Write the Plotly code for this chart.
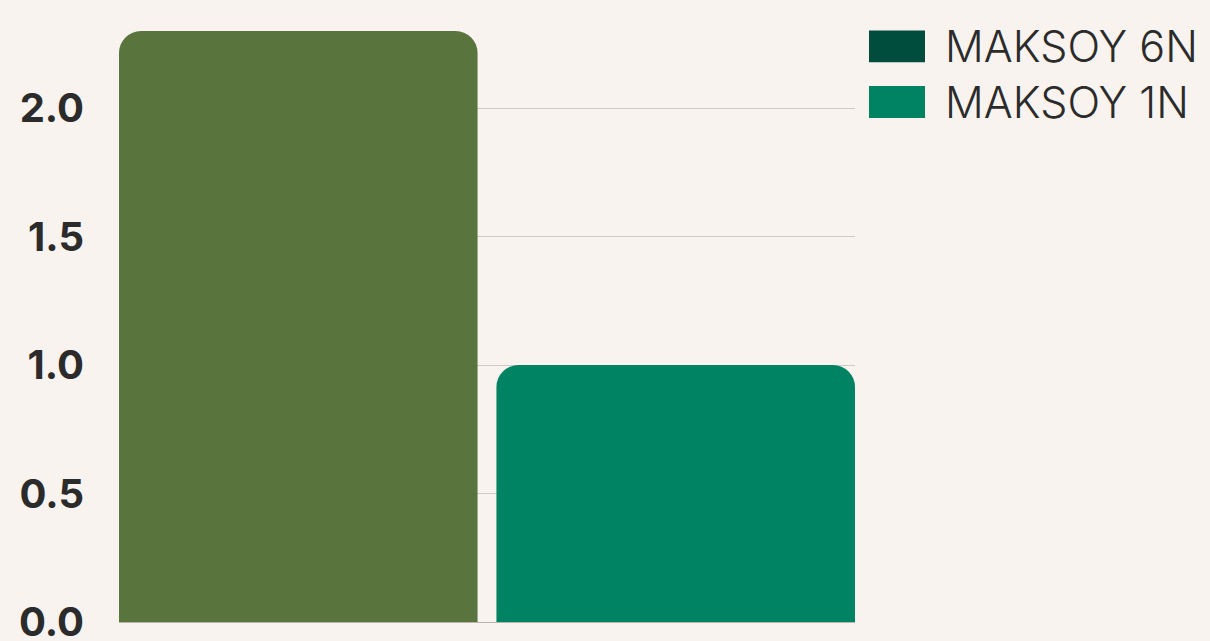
import plotly.graph_objects as go

categories = ["MAKSOY 6N", "MAKSOY 1N"]
values = [2.3, 1.0]
bar_colors = ["#5a743e", "#008363"]
legend_colors = ["#004d3d", "#008363"]
y_ticks = [0.0, 0.5, 1.0, 1.5, 2.0]
y_tick_labels = ["0.0", "0.5", "1.0", "1.5", "2.0"]

BG = "#f8f3ee"

fig = go.Figure()
fig.add_trace(go.Bar(
    x=categories, y=values,
    marker=dict(color=bar_colors, line=dict(width=0)),
    width=0.95, showlegend=False, hoverinfo="skip",
))

# custom legend (large swatches)
leg_y = [0.974, 0.880]
for name, col, yc in zip(categories, legend_colors, leg_y):
    fig.add_shape(type="rect", xref="paper", yref="paper",
                  x0=1.019, x1=1.0951, y0=yc - 0.027, y1=yc + 0.027,
                  fillcolor=col, line=dict(width=0))
    fig.add_annotation(text=name, xref="paper", yref="paper",
                       x=1.12, y=yc, xanchor="left", yanchor="middle",
                       showarrow=False,
                       font=dict(family="Inter", size=43, color="#2b2b2b", weight=300))

fig.update_layout(
    width=1210, height=681,
    margin=dict(l=119, r=355, t=31, b=59),
    paper_bgcolor=BG, plot_bgcolor=BG,
    barcornerradius=22,
    xaxis=dict(range=[-0.475, 1.475], showticklabels=False, showgrid=False,
               zeroline=False, showline=False, ticks="", automargin=False),
    yaxis=dict(range=[0, 2.3], tickvals=y_ticks, ticktext=y_tick_labels,
               showgrid=True, gridcolor="#cfcbc6", gridwidth=1,
               zeroline=True, zerolinecolor="#b8b4b0", zerolinewidth=1,
               showline=False, ticks="outside", ticklen=26, tickcolor="rgba(0,0,0,0)",
               automargin=False,
               tickfont=dict(family="Inter", size=40, color="#2b2b2b", weight=700)),
)

fig.write_html("out.html", config={"displayModeBar": False},
               post_script="document.body.style.margin='0';document.body.style.overflow='hidden';")
